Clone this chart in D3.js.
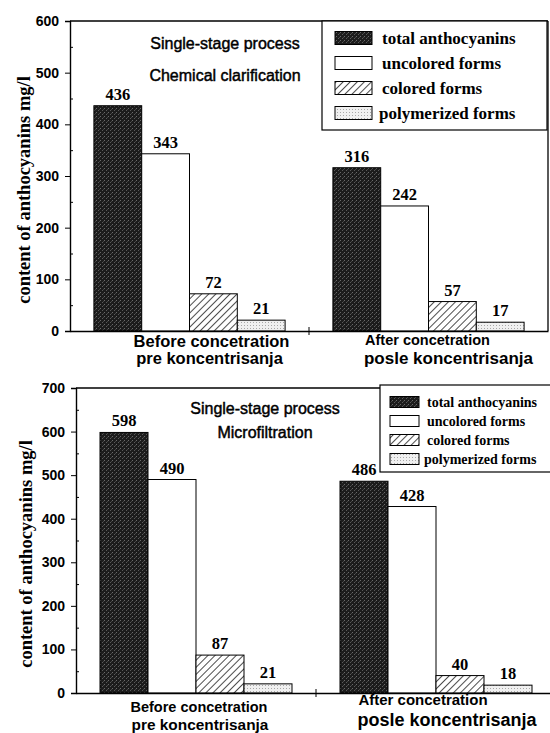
<!DOCTYPE html>
<html>
<head>
<meta charset="utf-8">
<title>Anthocyanins content</title>
<script src="https://cdn.jsdelivr.net/npm/d3@7"></script>
<style>
  body { margin: 0; background: #fff; }
  .tick text { font-family: "Liberation Sans", Arial, sans-serif; font-weight: bold; font-size: 14px; }
</style>
</head>
<body>
<script>
// data
var groups = ["before", "after"];
var series = ["total anthocyanins", "uncolored forms", "colored forms", "polymerized forms"];
var groupLine1 = ["Before concetration", "After concetration"];
var groupLine2 = ["pre koncentrisanja", "posle koncentrisanja"];

var clarBefore = [436, 343, 72, 21];
var clarAfter  = [316, 242, 57, 17];
var microBefore = [598, 490, 87, 21];
var microAfter  = [486, 428, 40, 18];

var clarTicks = [0, 100, 200, 300, 400, 500, 600];
var microTicks = [0, 100, 200, 300, 400, 500, 600, 700];

var svg = d3.select("body").append("svg")
    .attr("width", 550)
    .attr("height", 733);

var defs = svg.append("defs");

// dark stipple for total
var p1 = defs.append("pattern").attr("id", "dark").attr("patternUnits", "userSpaceOnUse")
    .attr("width", 4).attr("height", 4);
p1.append("rect").attr("width", 4).attr("height", 4).attr("fill", "#1c1c1c");
p1.append("rect").attr("x", 0).attr("y", 0).attr("width", 1).attr("height", 1).attr("fill", "#6a6a6a");
p1.append("rect").attr("x", 2).attr("y", 2).attr("width", 1).attr("height", 1).attr("fill", "#5a5a5a");
p1.append("rect").attr("x", 3).attr("y", 1).attr("width", 1).attr("height", 1).attr("fill", "#444");

// hatch for colored
var p2 = defs.append("pattern").attr("id", "hatch").attr("patternUnits", "userSpaceOnUse")
    .attr("width", 5).attr("height", 5).attr("patternTransform", "rotate(45)");
p2.append("rect").attr("width", 5).attr("height", 5).attr("fill", "#fff");
p2.append("line").attr("x1", 0).attr("y1", 0).attr("x2", 0).attr("y2", 5)
    .attr("stroke", "#000").attr("stroke-width", 1.4);

// light stipple for polymerized
var p3 = defs.append("pattern").attr("id", "light").attr("patternUnits", "userSpaceOnUse")
    .attr("width", 3).attr("height", 3);
p3.append("rect").attr("width", 3).attr("height", 3).attr("fill", "#f0f0f0");
p3.append("rect").attr("x", 1).attr("y", 1).attr("width", 1).attr("height", 1).attr("fill", "#a8a8a8");

var fills = ["url(#dark)", "#fff", "url(#hatch)", "url(#light)"];

function drawPanel(cfg) {
  var g = svg.append("g");

  var x = d3.scaleBand().domain(groups).range([cfg.left, cfg.right]);
  var xi = d3.scaleBand().domain(series).range([0, x.bandwidth()]).paddingOuter(0.5);
  var y = d3.scaleLinear().domain([0, cfg.yMax]).range([cfg.bottom, cfg.top]);

  // frame
  g.append("line").attr("x1", cfg.left).attr("x2", cfg.right).attr("y1", cfg.top).attr("y2", cfg.top)
    .attr("stroke", "#000").attr("stroke-width", 1.3);
  g.append("line").attr("x1", cfg.right).attr("x2", cfg.right).attr("y1", cfg.top).attr("y2", cfg.bottom)
    .attr("stroke", "#000").attr("stroke-width", 1.3);

  // bars
  var data = [];
  groups.forEach(function(gr, i) {
    cfg.values[i].forEach(function(v, j) {
      data.push({ group: gr, s: series[j], v: v, j: j });
    });
  });

  g.append("g").selectAll("rect").data(data).enter().append("rect")
    .attr("x", function(d) { return x(d.group) + xi(d.s); })
    .attr("width", xi.bandwidth())
    .attr("y", function(d) { return y(d.v); })
    .attr("height", function(d) { return y(0) - y(d.v); })
    .attr("fill", function(d) { return fills[d.j]; })
    .attr("stroke", "#000").attr("stroke-width", 1);

  g.append("g").selectAll("text").data(data).enter().append("text")
    .attr("x", function(d) { return x(d.group) + xi(d.s) + xi.bandwidth() / 2; })
    .attr("y", function(d) { return y(d.v) - 6; })
    .attr("text-anchor", "middle")
    .style("font-family", "'Liberation Serif', 'Times New Roman', serif")
    .style("font-weight", "bold").style("font-size", "16.5px")
    .text(function(d) { return d.v; });

  // y axis
  var ya = g.append("g").attr("transform", "translate(" + cfg.left + ",0)")
    .call(d3.axisLeft(y).tickValues(cfg.ticks).tickSize(5).tickPadding(6));
  ya.select(".domain").attr("stroke-width", 1.4);
  var minor = cfg.ticks.slice(0, -1).map(function(t) { return t + 50; });
  g.append("g").attr("transform", "translate(" + cfg.left + ",0)")
    .call(d3.axisRight(y).tickValues(minor).tickSize(3).tickFormat(""))
    .select(".domain").remove();

  // x axis
  var xa = g.append("g").attr("transform", "translate(0," + cfg.bottom + ")")
    .call(d3.axisBottom(x).tickSize(0).tickFormat(""));
  xa.select(".domain").attr("stroke-width", 1.4);
  g.append("line")
    .attr("x1", x(groups[1])).attr("x2", x(groups[1]))
    .attr("y1", cfg.bottom - 4).attr("y2", cfg.bottom + 4)
    .attr("stroke", "#000");

  // group labels
  groups.forEach(function(gr, i) {
    var cx = x(gr) + x.bandwidth() / 2;
    g.append("text")
      .attr("x", cx + cfg.lab1[i][0]).attr("y", cfg.bottom + cfg.lab1[i][1])
      .attr("text-anchor", "middle")
      .style("font-family", "'Liberation Sans', Arial, sans-serif")
      .style("font-weight", "bold")
      .style("font-size", cfg.lab1[i][2] + "px")
      .text(groupLine1[i]);
    g.append("text")
      .attr("x", cx + cfg.lab2[i][0]).attr("y", cfg.bottom + cfg.lab2[i][1])
      .attr("text-anchor", "middle")
      .style("font-family", "'Liberation Sans', Arial, sans-serif")
      .style("font-weight", "bold")
      .style("font-size", cfg.lab2[i][2] + "px")
      .text(groupLine2[i]);
  });

  // y label
  g.append("text")
    .attr("transform", "translate(" + cfg.ylabX + "," + cfg.ylabY + ") rotate(-90)")
    .attr("text-anchor", "middle")
    .style("font-family", "'Liberation Serif', 'Times New Roman', serif")
    .style("font-weight", "bold").style("font-size", cfg.ylabSize + "px")
    .text("content of anthocyanins mg/l");

  // title
  cfg.title.forEach(function(t, i) {
    g.append("text")
      .attr("x", cfg.titleX).attr("y", cfg.titleY + i * cfg.titleGap)
      .attr("text-anchor", "middle")
      .style("font-family", "'Liberation Sans', Arial, sans-serif")
      .style("font-size", "16px")
      .attr("stroke", "#000").attr("stroke-width", 0.45)
      .text(t);
  });

  // legend
  var L = cfg.legend;
  var lg = g.append("g");
  lg.append("rect").attr("x", L.x).attr("y", L.y).attr("width", L.w).attr("height", L.h)
    .attr("fill", "#fff").attr("stroke", "#000").attr("stroke-width", 1.2);
  series.forEach(function(s, j) {
    var cy = L.first + j * L.row;
    lg.append("rect").attr("x", L.sx).attr("y", cy - L.sh / 2)
      .attr("width", L.sw).attr("height", L.sh)
      .attr("fill", fills[j]).attr("stroke", "#000").attr("stroke-width", 1);
    lg.append("text").attr("x", L.tx - (j == 3 ? 3 : 0)).attr("y", cy).attr("dy", "0.35em")
      .style("font-family", "'Liberation Serif', 'Times New Roman', serif")
      .style("font-weight", "bold").style("font-size", L.font + "px")
      .text(s);
  });
}

drawPanel({
  left: 70, right: 548, top: 21, bottom: 331, yMax: 600, ticks: clarTicks,
  values: [clarBefore, clarAfter],
  title: ["Single-stage process", "Chemical clarification"],
  titleX: 225, titleY: 49, titleGap: 32,
  ylabX: 30, ylabY: 190, ylabSize: 18.5,
  // [dx from group centre, dy below axis, font size]
  lab1: [[22, 16, 16.5], [-1, 14, 14.5]],
  lab2: [[20, 33, 16.5], [20, 33, 17]],
  legend: { x: 322, y: 21, w: 225, h: 109, sx: 335, sw: 37, sh: 13, first: 38, row: 25, tx: 382, font: 17 }
});

drawPanel({
  left: 76, right: 556, top: 388, bottom: 693, yMax: 700, ticks: microTicks,
  values: [microBefore, microAfter],
  title: ["Single-stage process", "Microfiltration"],
  titleX: 265, titleY: 414, titleGap: 24,
  ylabX: 32, ylabY: 554, ylabSize: 18.5,
  lab1: [[3, 19, 14.5], [-13, 12, 15]],
  lab2: [[4, 37, 15.4], [11, 33, 18]],
  legend: { x: 380, y: 385, w: 175, h: 87, sx: 390, sw: 29, sh: 11, first: 402, row: 19, tx: 427, font: 14 }
});
</script>
</body>
</html>
